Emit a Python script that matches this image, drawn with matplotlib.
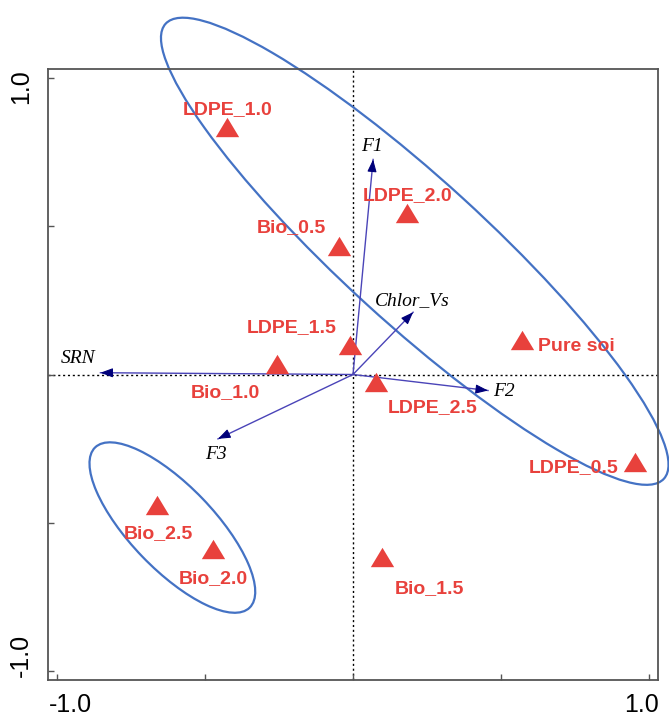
import matplotlib
matplotlib.use("Agg")
import matplotlib.pyplot as plt
import numpy as np
from matplotlib.patches import Ellipse
from matplotlib.transforms import ScaledTranslation

# ---- data ----
samples = ['LDPE_1.0', 'LDPE_2.0', 'Bio_0.5', 'LDPE_1.5', 'Bio_1.0', 'Pure soi',
           'LDPE_2.5', 'LDPE_0.5', 'Bio_2.5', 'Bio_2.0', 'Bio_1.5']
sample_x = [-0.425, 0.184, -0.048, -0.011, -0.258, 0.570, 0.078, 0.952, -0.661, -0.472, 0.097]
sample_y = [0.834, 0.544, 0.434, 0.098, 0.034, 0.115, -0.026, -0.296, -0.439, -0.587, -0.615]

variables = ['F1', 'Chlor_Vs', 'SRN', 'F2', 'F3']
var_x = [0.068, 0.203, -0.853, 0.456, -0.456]
var_y = [0.725, 0.210, 0.006, -0.054, -0.217]

tick_values = [-1.0, -0.5, 0.0, 0.5, 1.0]
tick_labels = ['-1.0', '', '', '', '1.0']

# ---- layout (pixel offsets of labels) ----
# (dx, dy) in pixels, screen direction (dy positive = down), anchor center/baseline
sample_label_off = {
    'LDPE_1.0': (0, -12.7, 'center'),
    'LDPE_2.0': (0, -13, 'center'),
    'Bio_0.5': (-47.8, -13.8, 'center'),
    'LDPE_1.5': (-58, -13, 'center'),
    'Bio_1.0': (-51, 33, 'center'),
    'Pure soi': (16, 11, 'left'),
    'LDPE_2.5': (57, 30, 'center'),
    'LDPE_0.5': (-61.3, 10, 'center'),
    'Bio_2.5': (0.8, 33.5, 'center'),
    'Bio_2.0': (0, 34, 'center'),
    'Bio_1.5': (48, 36, 'center'),
}
var_label_off = {
    'F1': (-1.6, -12.6, 'center'),
    'Chlor_Vs': (-0.8, -11.7, 'center'),
    'SRN': (-22.7, -14.3, 'center'),
    'F2': (4.7, 0.7, 'left'),
    'F3': (-1.6, 15.7, 'center'),
}

W, H = 669, 715
fig = plt.figure(figsize=(W / 100, H / 100), dpi=100)
ax = fig.add_axes([48 / W, 35 / H, 610 / W, 611 / H])
ax.set_xlim(-1.03, 1.03)
ax.set_ylim(-1.03, 1.03)

PX = 0.72  # points per pixel at dpi 100

# zero lines
ax.axhline(0, color='black', lw=1.0, ls=(0, (1.5, 2)), zorder=1)
ax.axvline(0, color='black', lw=1.0, ls=(0, (1.5, 2)), zorder=1)

# ellipses
blue = '#4472C4'
ax.add_patch(Ellipse((0.2085, 0.4155), 2.277, 0.483, angle=-42.35, fill=False,
                     edgecolor=blue, lw=1.6, clip_on=False, zorder=2))
ax.add_patch(Ellipse((-0.610, -0.516), 0.751, 0.282, angle=-46, fill=False,
                     edgecolor=blue, lw=1.6, clip_on=False, zorder=2))

# arrows
shaft = '#4a44b8'
head = '#00007a'
for name, vx, vy in zip(variables, var_x, var_y):
    ax.plot([0, vx], [0, vy], color=shaft, lw=1.0, zorder=3)
    ax.annotate('', xy=(vx, vy), xytext=(vx * 0.97, vy * 0.97),
                arrowprops=dict(arrowstyle='-|>,head_length=0.75,head_width=0.28',
                                color=head, lw=0.8, shrinkA=0, shrinkB=0),
                zorder=4)
    dx, dy, ha = var_label_off[name]
    ax.annotate(name, xy=(vx, vy), xytext=(dx * PX, -dy * PX),
                textcoords='offset points', ha=ha, va='center',
                fontsize=14, family='Liberation Serif', style='italic',
                color='black', zorder=5)

# samples
red = '#E8413C'
tri = [(0, 0.83), (-1, -0.83), (1, -0.83), (0, 0.83)]
ax.plot(sample_x, sample_y, ls='none', marker=tri, markersize=16.8,
        color=red, markeredgewidth=0, zorder=6)
for name, sx, sy in zip(samples, sample_x, sample_y):
    dx, dy, ha = sample_label_off[name]
    ax.annotate(name, xy=(sx, sy), xytext=(dx * PX, -dy * PX),
                textcoords='offset points', ha=ha, va='baseline',
                fontsize=14, family='Liberation Sans', fontweight='bold',
                color=red, zorder=7)

# axes styling
for sp in ax.spines.values():
    sp.set_color('#555555')
    sp.set_linewidth(1.3)
ax.set_xticks(tick_values)
ax.set_yticks(tick_values)
ax.set_xticklabels(tick_labels)
ax.set_yticklabels(tick_labels)
ax.tick_params(direction='in', length=4, width=1, color='#555555',
               labelsize=18, labelcolor='black')
ax.tick_params(axis='x', pad=9)
ax.tick_params(axis='y', pad=11, labelrotation=90)
for lab in ax.get_xticklabels() + ax.get_yticklabels():
    lab.set_family('Liberation Sans')

# offsets of individual tick labels (pixels)
xoffs = {'-1.0': 13.8, '1.0': -8}
for lab, txt in zip(ax.get_xticklabels(), tick_labels):
    if txt in xoffs:
        lab.set_transform(lab.get_transform() +
                          ScaledTranslation(xoffs[txt] / 100, 0, fig.dpi_scale_trans))
yoffs = {'-1.0': 16, '1.0': -8.7}
for lab, txt in zip(ax.get_yticklabels(), tick_labels):
    lab.set_va('center')
    if txt in yoffs:
        lab.set_transform(lab.get_transform() +
                          ScaledTranslation(0, yoffs[txt] / 100, fig.dpi_scale_trans))

fig.savefig('out.png', dpi=100)
